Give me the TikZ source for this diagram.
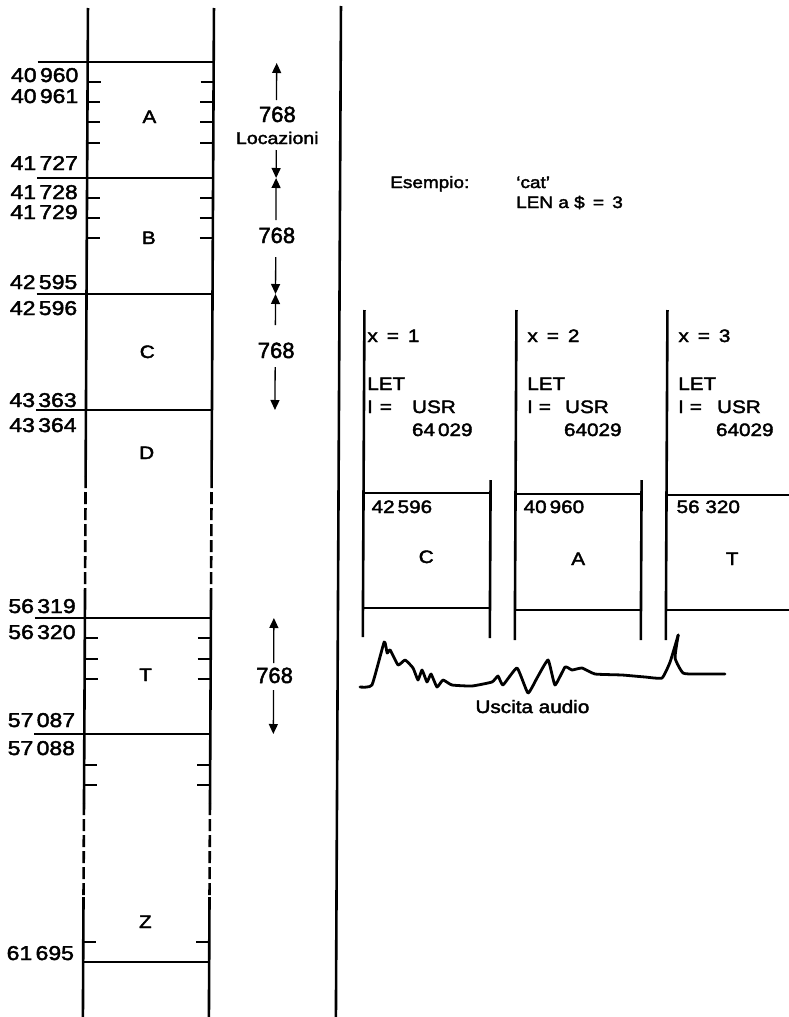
\documentclass[tikz,border=0pt]{standalone}
\usepackage{fontspec}
\setmainfont{Liberation Sans}[FakeStretch=1.15,FakeBold=2.2]
\newfontfamily\plainsans{Liberation Sans}[FakeBold=2.2]
\usetikzlibrary{arrows.meta}
\begin{document}
\begin{tikzpicture}[x={(1pt,0pt)},y={(-0.005pt,-1pt)},
  colline/.style={line width=2.6pt},
  dashpart/.style={line width=2.6pt, dash pattern=on 12pt off 4pt},
  sep/.style={line width=1.4pt},
  tickmark/.style={line width=1.4pt},
  addr/.style={anchor=base east, inner sep=0pt, font=\fontsize{20}{24}\selectfont},
  blk/.style={anchor=base, inner sep=0pt, font=\fontsize{18}{21}\selectfont},
  cnt/.style={anchor=base, inner sep=0pt, font=\plainsans\fontsize{22}{26}\selectfont},
  arr/.style={line width=1.3pt, -{Triangle[length=10pt,width=9pt]}},
  ptxt/.style={anchor=base west, inner sep=0pt, font=\fontsize{18}{22}\selectfont},
  pmid/.style={anchor=base, inner sep=0pt, font=\fontsize{18}{22}\selectfont},
  etxt/.style={anchor=base west, inner sep=0pt, font=\fontsize{16.5}{20}\selectfont},
  wave/.style={line width=2.8pt, line join=round, line cap=round},
]
\path[use as bounding box] (0pt,0pt) rectangle (789pt,-1017pt);

% ---------- memory column ----------
\foreach \cx in {88,214}{
  \draw[colline] (\cx,8) -- (\cx,476);
  \draw[dashpart] (\cx,476) -- (\cx,590);
  \draw[colline] (\cx,590) -- (\cx,803);
  \draw[dashpart] (\cx,803) -- (\cx,897);
  \draw[colline] (\cx,897) -- (\cx,1020);
}
\draw[colline] (341,6) -- (341,1020);

% boundaries
\foreach \yy in {62,178,294,410,618,734}{
  \draw[sep] (38,\yy) -- (214,\yy);
}
\draw[sep] (88,962) -- (214,962);

% ticks
\foreach \yy in {82,102,122,143,198,218,238,638,659,679,765,785,942}{
  \draw[tickmark] (88,\yy) -- (101,\yy);
  \draw[tickmark] (201,\yy) -- (214,\yy);
}

% addresses
\node[addr] (a1) at (79,82) {40\,960};
\node[addr] (a2) at (79,103) {40\,961};
\node[addr] (a3) at (79,170) {41\,727};
\node[addr] (a4) at (79,199) {41\,728};
\node[addr] (a5) at (79,219) {41\,729};
\node[addr] (a6) at (79,289) {42\,595};
\node[addr] (a7) at (79,315) {42\,596};
\node[addr] (a8) at (79,407) {43\,363};
\node[addr] (a9) at (79,432) {43\,364};
\node[addr] (a10) at (79,613) {56\,319};
\node[addr] (a11) at (79,639) {56\,320};
\node[addr] (a12) at (79,727) {57\,087};
\node[addr] (a13) at (79,755) {57\,088};
\node[addr] (a14) at (79,960) {61\,695};

% block letters
\node[blk] (bA) at (150,123) {A};
\node[blk] (bB) at (150,244) {B};
\node[blk] (bC) at (149,358) {C};
\node[blk] (bD) at (149,459) {D};
\node[blk] (bT) at (149,681) {T};
\node[blk] (bZ) at (150,928) {Z};

% 768 labels
\node[cnt] (n1) at (278,122) {768};
\node[anchor=base, inner sep=0pt, font=\fontsize{17}{20}\selectfont] (loc) at (278,144) {Locazioni};
\node[cnt] (n2) at (278,243) {768};
\node[cnt] (n3) at (278,358) {768};
\node[cnt] (n4) at (278,683) {768};

% arrow coordinates
\coordinate (t1) at (277,63);   \coordinate (s1a) at (277,100);
\coordinate (s1b) at (277,150); \coordinate (t2) at (277,178);
\coordinate (s2a) at (277,220); \coordinate (s2b) at (277,257);
\coordinate (t3) at (277,294);
\coordinate (s3a) at (277,325); \coordinate (s3b) at (277,367);
\coordinate (t4) at (277,410);
\coordinate (t5) at (277,618);  \coordinate (s4a) at (277,663);
\coordinate (s4b) at (277,690); \coordinate (t6) at (277,734);

\draw[arr] (s1a) -- (t1);
\draw[arr] (s1b) -- (t2);
\draw[arr] (s2a) -- (t2);
\draw[arr] (s2b) -- (t3);
\draw[arr] (s3a) -- (t3);
\draw[arr] (s3b) -- (t4);
\draw[arr] (s4a) -- (t5);
\draw[arr] (s4b) -- (t6);

% ---------- example ----------
\node[etxt] (es) at (391,188) {Esempio:};
\node[etxt] (cat) at (517,188) {‘cat’};
\node[etxt] (len) at (517,208) {LEN a \$\enspace=\enspace3};

% panel columns
\draw[colline] (366,310) -- (366,637);
\draw[colline] (493,480) -- (493,638);
\draw[colline] (518,310) -- (518,640);
\draw[colline] (644,480) -- (644,640);
\draw[colline] (669,310) -- (669,640);

\draw[sep] (366,493) -- (493,493);
\draw[sep] (366,608) -- (493,608);
\draw[sep] (518,494) -- (644,494);
\draw[sep] (518,610) -- (644,610);
\draw[sep] (669,495) -- (800,495);
\draw[sep] (669,610) -- (800,610);

% column 1
\node[ptxt] (x1) at (369,342) {x\enspace=\enspace1};
\node[ptxt] (let1) at (369,390) {LET};
\node[ptxt] (i1) at (369,413) {I};
\node[pmid] (eq1) at (388,413) {=};
\node[ptxt] (usr1) at (414,413) {USR};
\node[ptxt] (adr1) at (414,436) {64\,029};
\node[ptxt] (m1) at (374,513) {42\,596};
\node[blk] (c1) at (429,563) {C};
% column 2
\node[ptxt] (x2) at (529,342) {x\enspace=\enspace2};
\node[ptxt] (let2) at (529,390) {LET};
\node[ptxt] (i2) at (529,413) {I};
\node[pmid] (eq2) at (547,413) {=};
\node[ptxt] (usr2) at (567,413) {USR};
\node[ptxt] (adr2) at (566,436) {64029};
\node[ptxt] (m2) at (526,513) {40\,960};
\node[blk] (c2) at (581,565) {A};
% column 3
\node[ptxt] (x3) at (680,342) {x\enspace=\enspace3};
\node[ptxt] (let3) at (680,390) {LET};
\node[ptxt] (i3) at (680,413) {I};
\node[pmid] (eq3) at (698,413) {=};
\node[ptxt] (usr3) at (719,413) {USR};
\node[ptxt] (adr3) at (718,436) {64029};
\node[ptxt] (m3) at (679,513) {56\ 320};
\node[blk] (c3) at (735,565) {T};

% waveform
\draw[wave] plot[smooth, tension=0.25] coordinates {
 (363.4,687) (375.4,685) (387.4,642) (390.4,653) (393.4,650) (401.4,665)
 (408.4,660) (416.4,668) (421.4,680) (425.4,670) (430.4,682) (434.4,674)
 (440.4,687) (446.4,680) (455.4,685) (475.4,686) (495.4,682) (501.4,676)
 (506.4,685) (520.4,668) (531.4,693) (540.4,678) (551.4,660) (558.4,685)
 (568.4,667) (575.4,670) (585.4,668) (598.4,674) (625.4,675) (648.4,677)
 (665.4,678) (673.4,662) (681.4,635)};
\draw[wave] plot[smooth, tension=0.3] coordinates {
 (681.4,635) (678.4,658) (686.4,673) (700,674) (728.4,674)};
\node[anchor=base, inner sep=0pt, font=\fontsize{18}{22}\selectfont] (audio) at (536,713) {Uscita audio};
\end{tikzpicture}
\end{document}
